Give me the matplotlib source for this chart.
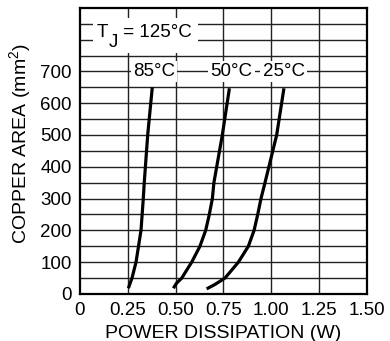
import matplotlib
matplotlib.use("Agg")
import matplotlib.pyplot as plt
import matplotlib.transforms as mtransforms
from matplotlib.patches import Rectangle
import numpy as np

plt.rcParams['font.family'] = ['Liberation Sans', 'DejaVu Sans']

# Data
area_85 = [18, 50, 100, 200, 300, 350, 500, 650]
power_85 = [0.253, 0.272, 0.293, 0.319, 0.331, 0.336, 0.354, 0.378]

area_50 = [18, 34, 50, 100, 150, 200, 250, 300, 350, 500, 647]
power_50 = [0.488, 0.505, 0.532, 0.584, 0.627, 0.657, 0.676, 0.692, 0.700, 0.744, 0.781]

area_25 = [16, 30, 50, 100, 150, 200, 250, 300, 350, 500, 647]
power_25 = [0.662, 0.706, 0.758, 0.828, 0.880, 0.910, 0.929, 0.946, 0.967, 1.028, 1.066]

x_ticks = [0, 0.25, 0.50, 0.75, 1.00, 1.25, 1.50]
x_tick_labels = ["0", "0.25", "0.50", "0.75", "1.00", "1.25", "1.50"]
y_ticks = [0, 100, 200, 300, 400, 500, 600, 700]
y_tick_labels = ["0", "100", "200", "300", "400", "500", "600", "700"]

curve_labels = ["85°C", "50°C", "25°C"]
label_x = [0.387, 0.792, 1.064]
label_y = 700

fig = plt.figure(figsize=(3.9, 3.41), dpi=100)
ax = fig.add_axes([0.205, 0.138, 0.736, 0.839])

ax.set_xlim(0, 1.5)
ax.set_ylim(0, 900)

# grid
for y in np.arange(50, 900, 50):
    ax.axhline(y, color='#222222', lw=1.0, zorder=1)
for x in x_ticks[1:-1]:
    ax.axvline(x, color='#222222', lw=1.0, zorder=1)

for a, p in [(area_85, power_85), (area_50, power_50), (area_25, power_25)]:
    ax.plot(p, a, color='black', lw=2.3, solid_capstyle='butt',
            solid_joinstyle='round', zorder=3)

fs = 13.5
for lbl, lx in zip(curve_labels, label_x):
    ax.text(lx, label_y, lbl, ha='center', va='center', fontsize=fs,
            bbox=dict(facecolor='white', edgecolor='none', pad=1.5), zorder=4)

# T_J = 125°C label with white box
ax.add_patch(Rectangle((0.068, 758), 0.55, 110, facecolor='white',
                       edgecolor='none', zorder=3.5))
tx, ty = 0.089, 809
ax.text(tx, ty, "T", ha='left', va='baseline', fontsize=fs, zorder=4)
ax.text(tx, ty, "J", ha='left', va='baseline', fontsize=fs, zorder=4,
        transform=mtransforms.offset_copy(ax.transData, fig=fig, x=8.3, y=-7.2, units='points'))
ax.text(tx, ty, " = 125°C", ha='left', va='baseline', fontsize=fs, zorder=4,
        transform=mtransforms.offset_copy(ax.transData, fig=fig, x=15.0, y=0, units='points'))

ax.set_xticks(x_ticks)
ax.set_xticklabels(x_tick_labels)
ax.set_yticks(y_ticks)
ax.set_yticklabels(y_tick_labels)
ax.tick_params(length=0, labelsize=fs, pad=6)

for s in ax.spines.values():
    s.set_linewidth(1.6)
    s.set_color('black')
    s.set_zorder(5)

ax.set_xlabel("POWER DISSIPATION (W)", fontsize=14, labelpad=4)
ax.set_ylabel("COPPER AREA (mm$^\\mathregular{2}$)", fontsize=14)
ax.yaxis.set_label_coords(-0.16, 0.525)

fig.savefig("out.png", dpi=100)
